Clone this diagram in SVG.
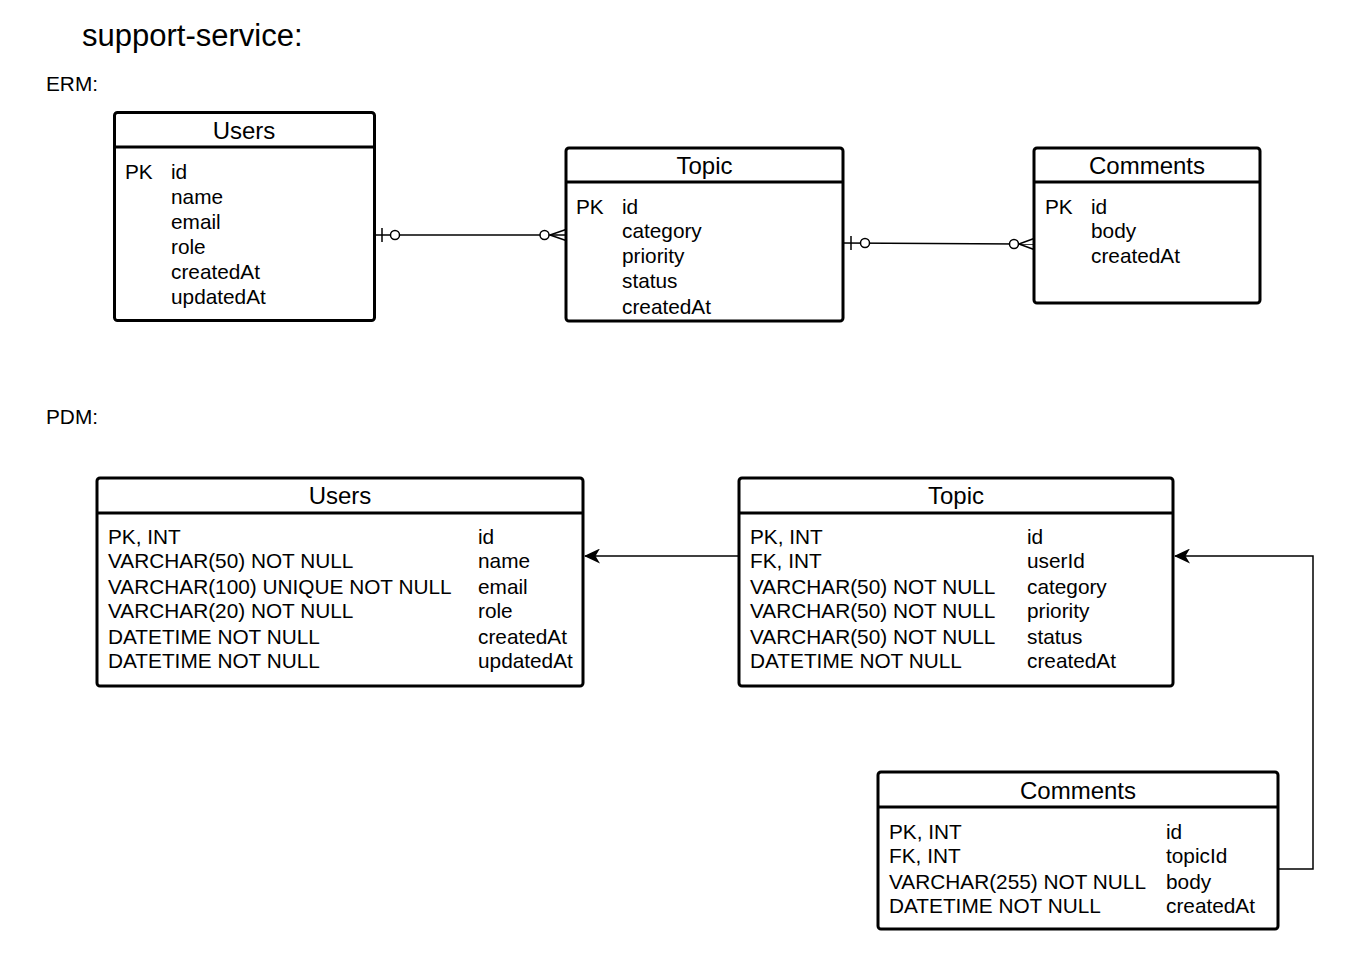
<svg xmlns="http://www.w3.org/2000/svg" width="1352" height="954" viewBox="0 0 1352 954">
<style>
text{font-family:"Liberation Sans",Arial,sans-serif;fill:#000}
.t{font-size:20.8px}
.h{font-size:24px;text-anchor:middle}
.box{fill:#fff;stroke:#000;stroke-width:3}
.sep{stroke:#000;stroke-width:3}
.c{fill:none;stroke:#000;stroke-width:1.5}
.cw{fill:#fff;stroke:#000;stroke-width:1.5}
</style>
<defs>
<marker id="arr" viewBox="0 0 16 15" refX="15" refY="7.5" markerWidth="16" markerHeight="15" markerUnits="userSpaceOnUse" orient="auto">
<path d="M0,0 L16,7.5 L0,15 L4.5,7.5 Z" fill="#000"/>
</marker>
</defs>
<rect width="1352" height="954" fill="#fff"/>
<text x="82" y="46" style="font-size:31px">support-service:</text>
<text x="46" y="91" class="t">ERM:</text>
<text x="46" y="424" class="t">PDM:</text>

<g id="connectors">
<g id="erm-users-topic">
<line class="c" x1="375" y1="235" x2="566" y2="235"/>
<line class="c" x1="382" y1="228" x2="382" y2="242"/>
<circle class="cw" cx="395" cy="235" r="4.5"/>
<line class="c" x1="550" y1="235" x2="566" y2="229.5"/>
<line class="c" x1="550" y1="235" x2="566" y2="240.5"/>
<circle class="cw" cx="544.5" cy="235" r="4.5"/>
</g>
<g id="erm-topic-comments">
<line class="c" x1="843" y1="243" x2="1034" y2="244"/>
<line class="c" x1="851" y1="236" x2="851" y2="250"/>
<circle class="cw" cx="865" cy="243" r="4.5"/>
<line class="c" x1="1019" y1="244" x2="1034" y2="238.5"/>
<line class="c" x1="1019" y1="244" x2="1034" y2="249.5"/>
<circle class="cw" cx="1014" cy="244" r="4.5"/>
</g>
<path class="c" d="M739,556 L585,556" marker-end="url(#arr)"/>
<path class="c" d="M1278,869 L1313,869 L1313,556 L1175,556" marker-end="url(#arr)"/>
</g>

<g id="erm-users">
<rect class="box" x="114.5" y="112.5" width="260" height="208" rx="3"/>
<line class="sep" x1="114.5" y1="147" x2="374.5" y2="147"/>
<text x="244" y="139" class="h">Users</text>
<text x="125" y="179" class="t">PK</text>
<text x="171" y="179" class="t">id</text>
<text x="171" y="204" class="t">name</text>
<text x="171" y="229" class="t">email</text>
<text x="171" y="254" class="t">role</text>
<text x="171" y="279" class="t">createdAt</text>
<text x="171" y="304" class="t">updatedAt</text>
</g>

<g id="erm-topic">
<rect class="box" x="566" y="148" width="277" height="173" rx="3"/>
<line class="sep" x1="566" y1="182" x2="843" y2="182"/>
<text x="704.5" y="174" class="h">Topic</text>
<text x="576" y="214" class="t">PK</text>
<text x="622" y="214" class="t">id</text>
<text x="622" y="238" class="t">category</text>
<text x="622" y="263" class="t">priority</text>
<text x="622" y="288" class="t">status</text>
<text x="622" y="314" class="t">createdAt</text>
</g>

<g id="erm-comments">
<rect class="box" x="1034" y="148" width="226" height="155" rx="3"/>
<line class="sep" x1="1034" y1="182" x2="1260" y2="182"/>
<text x="1147" y="174" class="h">Comments</text>
<text x="1045" y="214" class="t">PK</text>
<text x="1091" y="214" class="t">id</text>
<text x="1091" y="238" class="t">body</text>
<text x="1091" y="263" class="t">createdAt</text>
</g>

<g id="pdm-users">
<rect class="box" x="97" y="478" width="486" height="208" rx="3"/>
<line class="sep" x1="97" y1="513" x2="583" y2="513"/>
<text x="340" y="504" class="h">Users</text>
<text x="108" y="544" class="t">PK, INT</text>
<text x="108" y="568" class="t">VARCHAR(50) NOT NULL</text>
<text x="108" y="594" class="t">VARCHAR(100) UNIQUE NOT NULL</text>
<text x="108" y="618" class="t">VARCHAR(20) NOT NULL</text>
<text x="108" y="644" class="t">DATETIME NOT NULL</text>
<text x="108" y="668" class="t">DATETIME NOT NULL</text>
<text x="478" y="544" class="t">id</text>
<text x="478" y="568" class="t">name</text>
<text x="478" y="594" class="t">email</text>
<text x="478" y="618" class="t">role</text>
<text x="478" y="644" class="t">createdAt</text>
<text x="478" y="668" class="t">updatedAt</text>
</g>

<g id="pdm-topic">
<rect class="box" x="739" y="478" width="434" height="208" rx="3"/>
<line class="sep" x1="739" y1="513" x2="1173" y2="513"/>
<text x="956" y="504" class="h">Topic</text>
<text x="750" y="544" class="t">PK, INT</text>
<text x="750" y="568" class="t">FK, INT</text>
<text x="750" y="594" class="t">VARCHAR(50) NOT NULL</text>
<text x="750" y="618" class="t">VARCHAR(50) NOT NULL</text>
<text x="750" y="644" class="t">VARCHAR(50) NOT NULL</text>
<text x="750" y="668" class="t">DATETIME NOT NULL</text>
<text x="1027" y="544" class="t">id</text>
<text x="1027" y="568" class="t">userId</text>
<text x="1027" y="594" class="t">category</text>
<text x="1027" y="618" class="t">priority</text>
<text x="1027" y="644" class="t">status</text>
<text x="1027" y="668" class="t">createdAt</text>
</g>

<g id="pdm-comments">
<rect class="box" x="878" y="772" width="400" height="157" rx="3"/>
<line class="sep" x1="878" y1="807" x2="1278" y2="807"/>
<text x="1078" y="799" class="h">Comments</text>
<text x="889" y="839" class="t">PK, INT</text>
<text x="889" y="863" class="t">FK, INT</text>
<text x="889" y="889" class="t">VARCHAR(255) NOT NULL</text>
<text x="889" y="913" class="t">DATETIME NOT NULL</text>
<text x="1166" y="839" class="t">id</text>
<text x="1166" y="863" class="t">topicId</text>
<text x="1166" y="889" class="t">body</text>
<text x="1166" y="913" class="t">createdAt</text>
</g>
</svg>
